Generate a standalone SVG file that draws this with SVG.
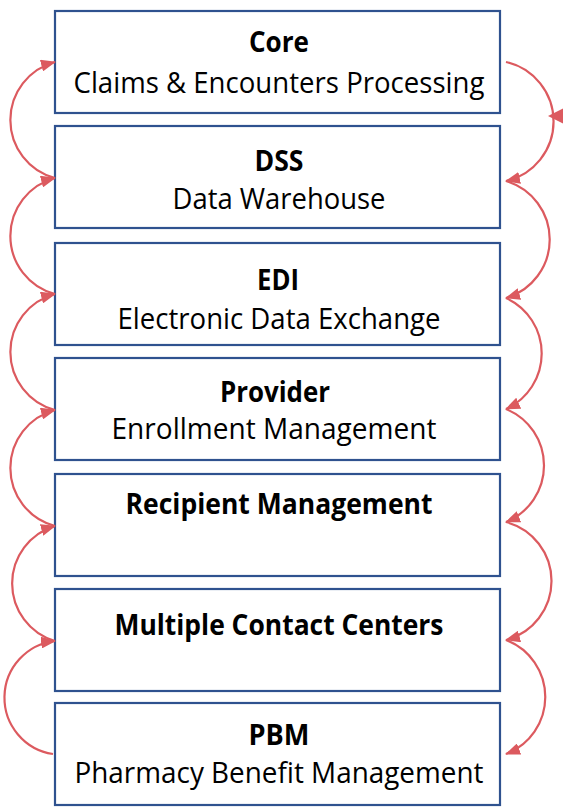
<svg xmlns="http://www.w3.org/2000/svg" width="563" height="808" viewBox="0 0 563 808">
<style>
.box{fill:#ffffff;stroke:#2F528F;stroke-width:2.2}
.t{font-family:"Open Sans","Noto Sans","Liberation Sans",sans-serif;font-size:29px;fill:#000;text-anchor:middle}
.b{font-weight:bold}
.arc{fill:none;stroke:#DC5A5F;stroke-width:2.2}
.head{fill:#DC5A5F}
</style>
<defs>
<marker id="ah" viewBox="0 0 15 12" refX="14" refY="6" markerWidth="15" markerHeight="12" markerUnits="userSpaceOnUse" orient="auto">
<path d="M0,0 L15,6 L0,12 z" class="head"/>
</marker>
</defs>
<rect width="563" height="808" fill="#ffffff"/>
<g id="core">
<rect class="box" x="55" y="11" width="445" height="102"/>
<text class="t b" x="279" y="52" textLength="60" lengthAdjust="spacingAndGlyphs">Core</text>
<text class="t" x="279" y="93" textLength="411" lengthAdjust="spacingAndGlyphs">Claims &amp; Encounters Processing</text>
</g>
<g id="dss">
<rect class="box" x="55" y="126" width="445" height="102"/>
<text class="t b" x="279" y="171" textLength="49" lengthAdjust="spacingAndGlyphs">DSS</text>
<text class="t" x="279" y="209" textLength="213" lengthAdjust="spacingAndGlyphs">Data Warehouse</text>
</g>
<g id="edi">
<rect class="box" x="55" y="243" width="445" height="102"/>
<text class="t b" x="278" y="290" textLength="42" lengthAdjust="spacingAndGlyphs">EDI</text>
<text class="t" x="279" y="329" textLength="323" lengthAdjust="spacingAndGlyphs">Electronic Data Exchange</text>
</g>
<g id="provider">
<rect class="box" x="55" y="358" width="445" height="102"/>
<text class="t b" x="275" y="402" textLength="110" lengthAdjust="spacingAndGlyphs">Provider</text>
<text class="t" x="274" y="439" textLength="325" lengthAdjust="spacingAndGlyphs">Enrollment Management</text>
</g>
<g id="recipient">
<rect class="box" x="55" y="474" width="445" height="102"/>
<text class="t b" x="279" y="514" textLength="307" lengthAdjust="spacingAndGlyphs">Recipient Management</text>
</g>
<g id="contact">
<rect class="box" x="55" y="589" width="445" height="102"/>
<text class="t b" x="279" y="635" textLength="329" lengthAdjust="spacingAndGlyphs">Multiple Contact Centers</text>
</g>
<g id="pbm">
<rect class="box" x="55" y="703" width="445" height="102"/>
<text class="t b" x="279" y="745" textLength="61" lengthAdjust="spacingAndGlyphs">PBM</text>
<text class="t" x="279" y="783" textLength="409" lengthAdjust="spacingAndGlyphs">Pharmacy Benefit Management</text>
</g>
<g id="connectors">
<path class="arc" marker-end="url(#ah)" d="M55,178 A60,60 0 0 1 55,62"/>
<path class="arc" marker-end="url(#ah)" d="M55,294 A60,60 0 0 1 55,178"/>
<path class="arc" marker-end="url(#ah)" d="M55,410 A60,60 0 0 1 55,294"/>
<path class="arc" marker-end="url(#ah)" d="M55,526 A60,60 0 0 1 55,410"/>
<path class="arc" marker-end="url(#ah)" d="M55,641 A60,60 0 0 1 55,526"/>
<path class="arc" marker-end="url(#ah)" d="M53,754 A57,57 0 0 1 55,641"/>
<path class="arc" marker-end="url(#ah)" d="M506,62 A61,61 0 0 1 506,181"/>
<path class="arc" marker-end="url(#ah)" d="M506,181 A61,61 0 0 1 506,298"/>
<path class="arc" marker-end="url(#ah)" d="M506,298 A61,61 0 0 1 506,409"/>
<path class="arc" marker-end="url(#ah)" d="M506,409 A61,61 0 0 1 506,522"/>
<path class="arc" marker-end="url(#ah)" d="M506,522 A61,61 0 0 1 506,640"/>
<path class="arc" marker-end="url(#ah)" d="M506,640 A61,61 0 0 1 506,754"/>
<polygon class="head" points="548,116 564,108 564,124"/>
</g>
</svg>
